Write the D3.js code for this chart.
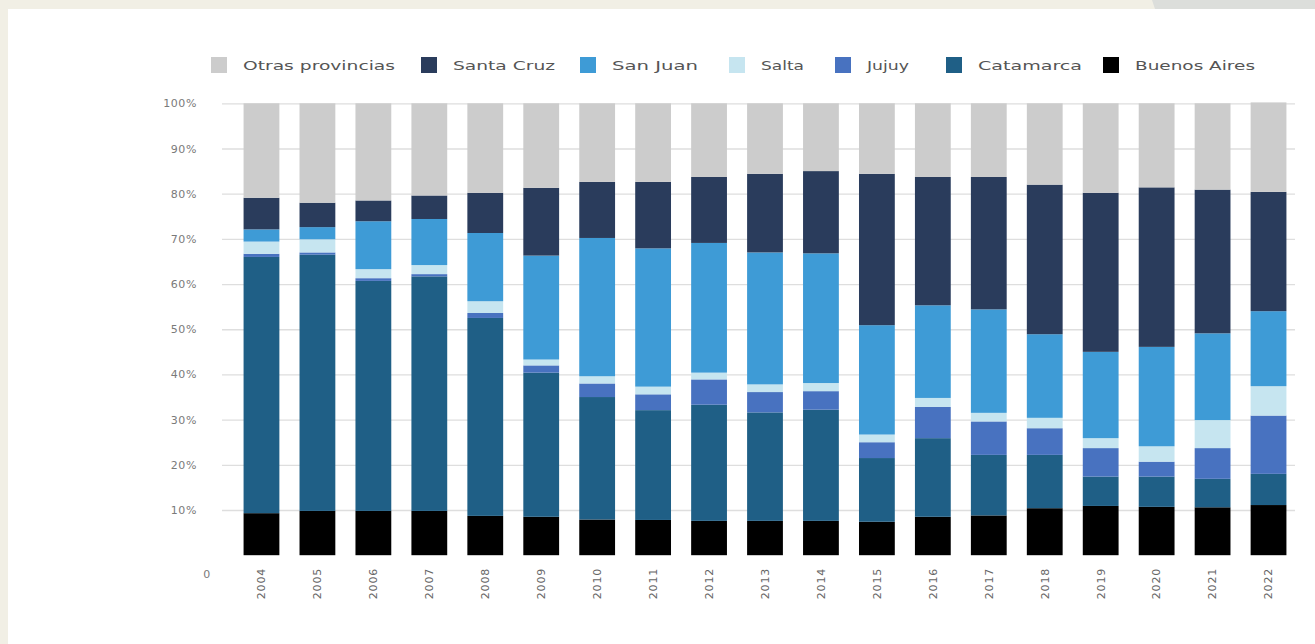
<!DOCTYPE html>
<html><head><meta charset="utf-8">
<script src="https://cdn.jsdelivr.net/npm/d3@7"></script>
<style>
html,body{margin:0;padding:0;background:#fff;}
svg{display:block;}
text{font-family:"DejaVu Sans","Open Sans",sans-serif;}
</style></head>
<body>
<svg id="chart" width="1315" height="644"></svg>
<script>
const years = ["2004","2005","2006","2007","2008","2009","2010","2011","2012","2013","2014","2015","2016","2017","2018","2019","2020","2021","2022"];
// stacked bottom to top
const buenosAires = [9.3,9.8,9.8,9.8,8.7,8.5,7.9,7.8,7.6,7.6,7.6,7.4,8.5,8.8,10.4,10.9,10.7,10.6,11.1];
const catamarca   = [56.7,56.7,50.9,51.9,43.8,31.9,27.1,24.3,25.7,24.0,24.6,14.1,17.4,13.4,11.8,6.5,6.7,6.3,6.9];
const jujuy       = [0.7,0.5,0.6,0.5,1.1,1.6,3.0,3.5,5.6,4.5,4.1,3.5,6.9,7.4,5.9,6.3,3.3,6.8,12.9];
const salta       = [2.7,2.9,2.0,2.0,2.6,1.3,1.6,1.7,1.5,1.7,1.8,1.7,2.0,1.9,2.3,2.2,3.4,6.2,6.5];
const sanJuan     = [2.7,2.7,10.6,10.2,15.1,23.0,30.6,30.6,28.7,29.2,28.7,24.2,20.5,22.9,18.5,19.1,22.0,19.2,16.6];
const santaCruz   = [7.0,5.4,4.6,5.2,8.9,15.0,12.4,14.7,14.6,17.4,18.2,33.5,28.4,29.3,33.1,35.2,35.3,31.8,26.4];
const otras       = [20.9,22.0,21.5,20.4,19.8,18.7,17.4,17.4,16.3,15.6,15.0,15.6,16.3,16.3,18.0,19.8,18.6,19.1,19.8];
const yTicks = [0,10,20,30,40,50,60,70,80,90,100];
const yTickLabels = ["0","10%","20%","30%","40%","50%","60%","70%","80%","90%","100%"];

const seriesKeys = ["Buenos Aires","Catamarca","Jujuy","Salta","San Juan","Santa Cruz","Otras provincias"];
const seriesVals = [buenosAires,catamarca,jujuy,salta,sanJuan,santaCruz,otras];
const colors = {"Buenos Aires":"#000000","Catamarca":"#1f5f86","Jujuy":"#4872c0","Salta":"#c6e5f0","San Juan":"#3e9bd6","Santa Cruz":"#2a3c5c","Otras provincias":"#cccccc"};
const legendOrder = ["Otras provincias","Santa Cruz","San Juan","Salta","Jujuy","Catamarca","Buenos Aires"];

const rows = years.map((y,i)=>{const r={year:y}; seriesKeys.forEach((k,j)=>r[k]=seriesVals[j][i]); return r;});

const svg = d3.select("#chart");
// background frame
svg.append("rect").attr("x",0).attr("y",0).attr("width",1315).attr("height",644).attr("fill","#f1efe5");
svg.append("rect").attr("x",8).attr("y",9).attr("width",1307).attr("height",635).attr("fill","#ffffff");
svg.append("path").attr("d","M1152,0 L1315,0 L1315,9 L1155,9 Z").attr("fill","#dcdedb");

const x = d3.scaleBand().domain(years).range([233.5,1296.5]).paddingInner(0.36).paddingOuter(0.18);
const y = d3.scaleLinear().domain([0,100]).range([555.2,103.3]);

// grid
const grid = svg.append("g").attr("transform","translate(222,0)")
  .call(d3.axisRight(y).tickValues(yTicks.slice(1)).tickSize(1073).tickFormat(""));
grid.select(".domain").remove();
grid.selectAll("line").attr("stroke","#dedede").attr("stroke-width",1.3);

// y axis labels
const yAx = svg.append("g").attr("transform","translate(197,0)")
  .call(d3.axisLeft(y).tickValues(yTicks).tickSize(0).tickPadding(0).tickFormat((d,i)=>yTickLabels[i]));
yAx.select(".domain").remove();
yAx.selectAll("text").attr("fill","#7a7a7a").attr("font-size","11px").attr("letter-spacing","0.6px");
yAx.selectAll(".tick").filter(d=>d===0).select("text").attr("text-anchor","middle").attr("dx",10).attr("dy",22);

// stacked bars
const stack = d3.stack().keys(seriesKeys)(rows);
svg.append("g").selectAll("g").data(stack).join("g").attr("fill",d=>colors[d.key])
  .selectAll("rect").data(d=>d).join("rect")
  .attr("x",d=>x(d.data.year)).attr("width",x.bandwidth())
  .attr("y",d=>y(d[1])).attr("height",d=>Math.max(0,y(d[0])-y(d[1])));

// x axis labels
const xAx = svg.append("g").attr("transform","translate(0,568)")
  .call(d3.axisBottom(x).tickSize(0).tickPadding(0));
xAx.select(".domain").remove();
xAx.selectAll("text").attr("fill","#666").attr("font-size","11px").attr("letter-spacing","0.8px")
  .attr("transform","rotate(-90)").attr("text-anchor","end").attr("dy","0.35em").attr("x",0).attr("y",0);

// legend
const legX = {"Otras provincias":211,"Santa Cruz":421,"San Juan":580,"Salta":729,"Jujuy":835,"Catamarca":946,"Buenos Aires":1103};
const legW = {"Otras provincias":152,"Santa Cruz":102,"San Juan":86,"Salta":43,"Jujuy":42,"Catamarca":104,"Buenos Aires":120};
const leg = svg.append("g");
legendOrder.forEach(k=>{
  leg.append("rect").attr("x",legX[k]).attr("y",57).attr("width",16).attr("height",16).attr("fill",colors[k]);
  leg.append("text").attr("x",legX[k]+32).attr("y",65).attr("dy","0.35em").attr("fill","#555")
    .attr("font-size","13px").attr("textLength",legW[k]).attr("lengthAdjust","spacingAndGlyphs").text(k);
});
</script>
</body></html>
